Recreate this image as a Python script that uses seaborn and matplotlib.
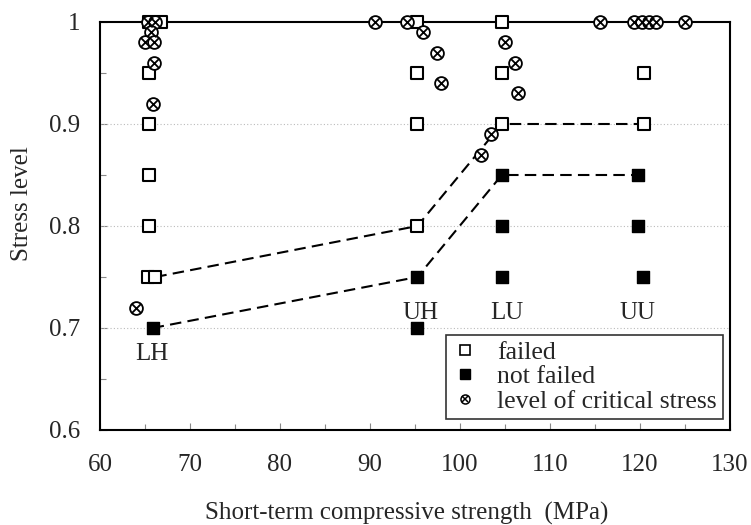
import matplotlib
matplotlib.use("Agg")
import matplotlib.pyplot as plt
import seaborn as sns
import pandas as pd
from matplotlib.legend_handler import HandlerTuple
from matplotlib.lines import Line2D

# ---- data ----
failed_x = [65.44, 65.44, 65.44, 65.44, 65.44, 65.34, 66.15, 66.75,
            95.27, 95.27, 95.27, 95.27, 104.65, 104.65, 104.65, 120.47, 120.47]
failed_y = [1.0, 0.95, 0.90, 0.85, 0.80, 0.75, 0.75, 1.0,
            1.0, 0.95, 0.90, 0.80, 1.0, 0.95, 0.90, 0.95, 0.90]

notfailed_x = [65.85, 95.27, 95.27, 104.65, 104.65, 104.65, 119.76, 119.76, 120.37]
notfailed_y = [0.70, 0.75, 0.70, 0.85, 0.80, 0.75, 0.85, 0.80, 0.75]

critical_x = [65.34, 66.15, 65.64, 65.04, 66.05, 65.95, 65.85, 64.03,
              90.54, 94.06, 95.88, 97.49, 97.89,
              105.0, 106.11, 106.46, 103.48, 102.37,
              115.53, 119.36, 120.17, 120.97, 121.78, 124.99]
critical_y = [1.0, 1.0, 0.99, 0.98, 0.98, 0.96, 0.92, 0.72,
              1.0, 1.0, 0.99, 0.97, 0.94,
              0.98, 0.96, 0.93, 0.89, 0.87,
              1.0, 1.0, 1.0, 1.0, 1.0, 1.0]

upper_x = [66.15, 95.27, 104.65, 120.47]
upper_y = [0.75, 0.80, 0.90, 0.90]
lower_x = [65.85, 95.27, 104.65, 119.76]
lower_y = [0.70, 0.75, 0.85, 0.85]

group_labels = ["LH", "UH", "LU", "UU"]
group_label_x = [65.75, 95.67, 105.25, 119.76]
group_label_y = [0.675, 0.715, 0.715, 0.715]

x_ticks = [60, 70, 80, 90, 100, 110, 120, 130]
y_ticks = [0.6, 0.7, 0.8, 0.9, 1.0]
y_ticklabels = ["0.6", "0.7", "0.8", "0.9", "1"]

# ---- style ----
sns.set_style("ticks")
plt.rcParams['font.family'] = ['Liberation Serif', 'DejaVu Serif']

FS = 18

fig = plt.figure(figsize=(7.51, 5.25), dpi=100)
ax = fig.add_axes([100 / 751, 95 / 525, 630 / 751, 408 / 525])

df_up = pd.DataFrame({"x": upper_x, "y": upper_y})
df_lo = pd.DataFrame({"x": lower_x, "y": lower_y})
sns.lineplot(data=df_up, x="x", y="y", sort=False, ax=ax, color="black",
             linewidth=1.5, zorder=2)
sns.lineplot(data=df_lo, x="x", y="y", sort=False, ax=ax, color="black",
             linewidth=1.5, zorder=2)
for ln in ax.get_lines():
    ln.set_dashes((5.5, 3))

df_f = pd.DataFrame({"x": failed_x, "y": failed_y})
df_n = pd.DataFrame({"x": notfailed_x, "y": notfailed_y})
df_c = pd.DataFrame({"x": critical_x, "y": critical_y})

sns.scatterplot(data=df_f, x="x", y="y", ax=ax, marker="s", s=80,
                facecolor="white", edgecolor="black", linewidth=1.5,
                zorder=4, clip_on=False)
sns.scatterplot(data=df_n, x="x", y="y", ax=ax, marker="s", s=80,
                color="black", edgecolor="black", linewidth=1,
                zorder=4, clip_on=False)
sns.scatterplot(data=df_c, x="x", y="y", ax=ax, marker="o", s=85,
                facecolor="white", edgecolor="black", linewidth=1.3,
                zorder=5, clip_on=False)
sns.scatterplot(data=df_c, x="x", y="y", ax=ax, marker="x", s=45,
                color="black", linewidth=1.3, zorder=6, clip_on=False)

for lab, lx, ly in zip(group_labels, group_label_x, group_label_y):
    ax.text(lx, ly, lab, ha="center", va="center", fontsize=FS)

ax.set_xlim(60, 130)
ax.set_ylim(0.6, 1.0)
ax.set_xticks(x_ticks)
ax.set_xticks(range(60, 131, 5), minor=True)
ax.set_yticks(y_ticks)
ax.set_yticklabels(y_ticklabels)
ax.set_yticks([0.65, 0.75, 0.85, 0.95], minor=True)
ax.tick_params(axis="both", which="both", direction="in", labelsize=FS,
               color="#888888", width=0.8)
ax.tick_params(axis="both", which="major", length=5)
ax.tick_params(axis="both", which="minor", length=4)
ax.tick_params(axis="y", which="major", pad=14)
ax.tick_params(axis="x", which="major", pad=17)

for yv in [0.7, 0.8, 0.9]:
    ax.axhline(yv, color="#bbbbbb", linestyle=(0, (1, 2)), linewidth=0.8, zorder=1)

for sp in ax.spines.values():
    sp.set_visible(True)
    sp.set_color("black")
    sp.set_linewidth(1.5)

ax.set_xlabel("Short-term compressive strength  (MPa)", fontsize=FS, labelpad=19)
ax.set_ylabel("Stress level", fontsize=FS, labelpad=12)
ax.xaxis.label.set_x(0.487)
ax.yaxis.label.set_y(0.556)

h_f = Line2D([], [], marker="s", linestyle="none", markersize=6.5,
             markerfacecolor="white", markeredgecolor="black", markeredgewidth=1.2)
h_n = Line2D([], [], marker="s", linestyle="none", markersize=6.5,
             markerfacecolor="black", markeredgecolor="black")
h_c1 = Line2D([], [], marker="o", linestyle="none", markersize=6.5,
              markerfacecolor="white", markeredgecolor="black", markeredgewidth=1.1)
h_c2 = Line2D([], [], marker="x", linestyle="none", markersize=4,
              markeredgecolor="black", markeredgewidth=1.1)
leg = ax.legend([h_f, h_n, (h_c1, h_c2)],
                ["failed", "not failed", "level of critical stress"],
                handler_map={tuple: HandlerTuple(ndivide=1)},
                loc="lower right", bbox_to_anchor=(0.989, 0.027),
                borderaxespad=0, fontsize=FS + 0.5, frameon=True, fancybox=False,
                handlelength=1.0, handletextpad=0.75, labelspacing=0.05,
                borderpad=0.25)
leg.get_frame().set_edgecolor("black")
leg.get_frame().set_linewidth(1.2)
leg.set_zorder(10)

fig.savefig("out.png", dpi=100)
